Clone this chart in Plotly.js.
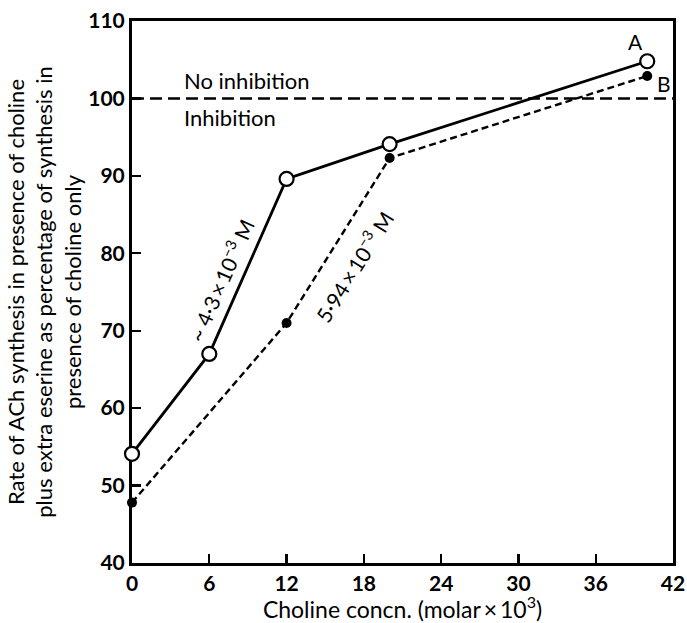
<!DOCTYPE html>
<html>
<head>
<meta charset="utf-8">
<script src="https://cdn.plot.ly/plotly-3.0.1.min.js"></script>
<style>html,body{margin:0;padding:0;background:#fff;}#chart{width:687px;height:623px;}</style>
</head>
<body>
<div id="chart"></div>
<script>
// Data
const cholineA = [0, 6, 12, 20, 40];
const rateA = [54.1, 67.0, 89.6, 94.1, 104.8];
const cholineB = [0, 12, 20, 40];
const rateB = [47.8, 71.0, 92.3, 102.9];
const refX = [0, 42];
const refY = [100, 100];
const xTicks = [0, 6, 12, 18, 24, 30, 36, 42];
const yTicks = [40, 50, 60, 70, 80, 90, 100, 110];

const FONT = 'Lato, "Open Sans", sans-serif';

const traces = [
  {
    x: refX, y: refY, mode: 'lines', type: 'scatter',
    line: {color: '#000', width: 2.4, dash: '12px,6px'},
    hoverinfo: 'skip', showlegend: false, cliponaxis: false
  },
  {
    x: cholineB, y: rateB, mode: 'lines+markers', type: 'scatter', name: 'B',
    line: {color: '#000', width: 2.4, dash: '7px,4px'},
    marker: {color: '#000', size: 10, symbol: 'circle'},
    showlegend: false, cliponaxis: false
  },
  {
    x: cholineA, y: rateA, mode: 'lines+markers', type: 'scatter', name: 'A',
    line: {color: '#000', width: 2.8},
    marker: {color: '#fff', size: 14, symbol: 'circle', line: {color: '#000', width: 2.2}},
    showlegend: false, cliponaxis: false
  }
];

const layout = {
  width: 687, height: 623,
  margin: {l: 132, r: 14, t: 21, b: 60},
  paper_bgcolor: '#fff', plot_bgcolor: '#fff',
  font: {family: FONT, color: '#000', size: 23},
  xaxis: {
    range: [0, 42], tickmode: 'array', tickvals: xTicks, ticktext: xTicks.map(String),
    ticks: 'inside', ticklen: 9, tickwidth: 2.4, tickcolor: '#000',
    showline: true, linecolor: '#000', linewidth: 3, mirror: true,
    showgrid: false, zeroline: false, layer: 'below traces',
    tickfont: {family: FONT, size: 21, weight: 'bold'},
    title: {text: 'Choline concn. (molar\u2009\u00d7\u200910<sup>3</sup>)', font: {family: FONT, size: 23}, standoff: 2}
  },
  yaxis: {
    range: [40, 110], tickmode: 'array', tickvals: yTicks, ticktext: yTicks.map(String),
    ticks: 'inside', ticklen: 9, tickwidth: 2.4, tickcolor: '#000',
    showline: true, linecolor: '#000', linewidth: 3, mirror: true,
    showgrid: false, zeroline: false, layer: 'below traces',
    tickfont: {family: FONT, size: 21, weight: 'bold'},
    title: {text: 'Rate of ACh synthesis in presence of choline<br>plus extra eserine as percentage of synthesis in<br>presence of choline only', font: {family: FONT, size: 22}, standoff: 1}
  },
  annotations: [
    {x: 3.9, y: 102.3, xref: 'x', yref: 'y', text: 'No inhibition', showarrow: false, xanchor: 'left', yanchor: 'middle', font: {size: 22}},
    {x: 3.9, y: 97.5, xref: 'x', yref: 'y', text: 'Inhibition', showarrow: false, xanchor: 'left', yanchor: 'middle', font: {size: 22}},
    {x: 39.1, y: 107.4, xref: 'x', yref: 'y', text: 'A', showarrow: false, font: {size: 21}},
    {x: 41.3, y: 101.9, xref: 'x', yref: 'y', text: 'B', showarrow: false, font: {size: 21}},
    {x: 6.8, y: 76.6, xref: 'x', yref: 'y', text: '~ 4·3\u2009\u00d7\u200910<sup>\u22123</sup> M', showarrow: false, textangle: -66, font: {size: 21}},
    {x: 17.2, y: 78.3, xref: 'x', yref: 'y', text: '5·94\u2009\u00d7\u200910<sup>\u22123</sup> M', showarrow: false, textangle: -58, font: {size: 21}}
  ]
};

Plotly.newPlot('chart', traces, layout, {staticPlot: true, displayModeBar: false});
</script>
</body>
</html>
